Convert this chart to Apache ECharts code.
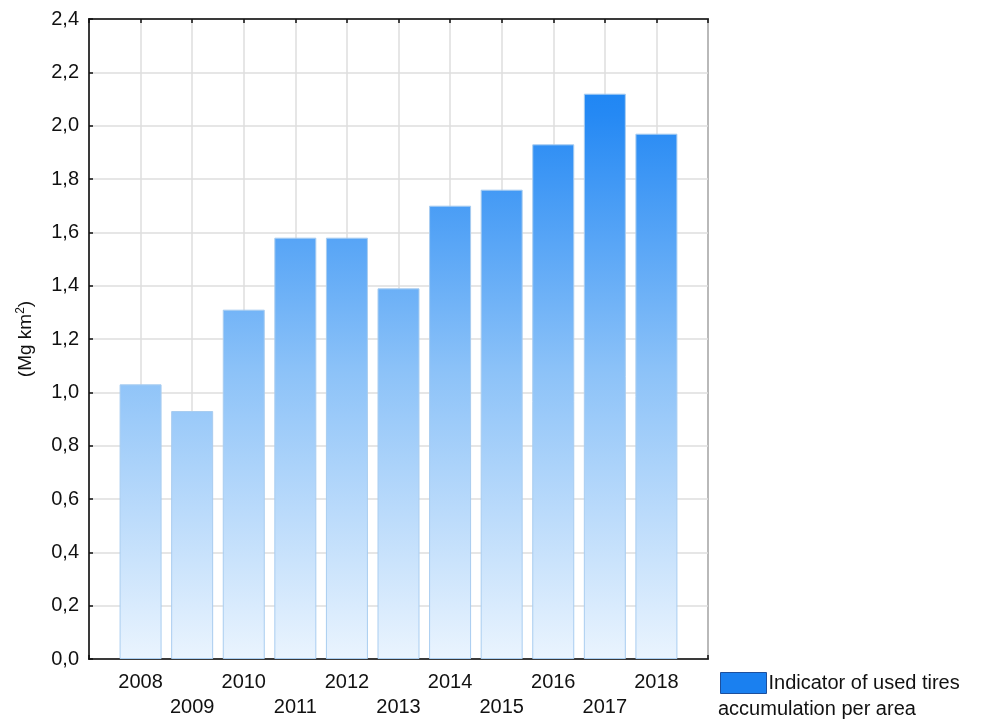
<!DOCTYPE html>
<html>
<head>
<meta charset="utf-8">
<script src="https://cdn.jsdelivr.net/npm/echarts@6/dist/echarts.min.js"></script>
<style>html,body{margin:0;padding:0;background:#fff;}#c{width:982px;height:720px;}</style>
</head>
<body>
<div id="c"></div>
<script>
const categories = ['', '2008', '2009', '2010', '2011', '2012', '2013', '2014', '2015', '2016', '2017', '2018', ''];
const values = [null, 1.03, 0.93, 1.31, 1.58, 1.58, 1.39, 1.70, 1.76, 1.93, 2.12, 1.97, null];
const yTicks = { min: 0, max: 2.4, interval: 0.2 };
const seriesName = 'Indicator of used tires accumulation per area';
const legendLine1 = 'Indicator of used tires';
const legendLine2 = 'accumulation per area';

const FONT = 'Liberation Sans';
const gridTop = 19, gridBottom = 61, gridLeft = 89, gridRight = 274;
const chart = echarts.init(document.getElementById('c'));
const barGrad = new echarts.graphic.LinearGradient(0, 720 - gridBottom, 0, gridTop, [
  { offset: 0, color: '#eaf4fe' },
  { offset: 0.45, color: '#8cc2f8' },
  { offset: 0.85, color: '#2589f4' },
  { offset: 1, color: '#0f7ef2' }
], true);

chart.setOption({
  animation: false,
  grid: { left: gridLeft, right: gridRight, top: gridTop, bottom: gridBottom, show: true, borderColor: '#111', borderWidth: 1.5, backgroundColor: 'transparent' },
  legend: {
    left: 720, top: 672, itemWidth: 46, itemHeight: 21, itemGap: 0, padding: 0,
    icon: 'rect',
    data: [{ name: seriesName, itemStyle: { color: '#1a80f0', borderColor: '#1d4f9c', borderWidth: 1 } }],
    formatter: () => legendLine1,
    textStyle: { fontFamily: FONT, fontSize: 20, color: '#111', padding: [0, 0, 0, -3] }
  },
  graphic: [{
    type: 'text', left: 718, top: 699,
    style: { text: legendLine2, font: '20px "' + FONT + '"', fill: '#111' }
  }],
  xAxis: [{
    type: 'category', data: categories, boundaryGap: false,
    axisLine: { lineStyle: { color: '#111', width: 1.5 } },
    axisTick: { inside: true, length: 4, lineStyle: { color: '#111', width: 1.5 } },
    splitLine: { show: true, lineStyle: { color: '#dedede', width: 1.5 } },
    axisLabel: {
      interval: 0, margin: 11, fontFamily: FONT, fontSize: 20, color: '#111', lineHeight: 25,
      formatter: (v, i) => (i % 2 === 0 ? '\n' + v : v)
    }
  }, {
    type: 'category', data: categories, boundaryGap: false, position: 'top',
    axisLine: { lineStyle: { color: '#111', width: 1.5 } },
    axisTick: { inside: true, length: 4, lineStyle: { color: '#111', width: 1.5 } },
    axisLabel: { show: false }
  }],
  yAxis: {
    type: 'value', min: yTicks.min, max: yTicks.max, interval: yTicks.interval,
    name: '(Mg km{sup|2})', nameLocation: 'middle', nameGap: 53,
    nameTextStyle: { fontFamily: FONT, fontSize: 19, color: '#111', rich: { sup: { fontFamily: FONT, fontSize: 12, verticalAlign: 'top', padding: [0, 0, 9, 0], color: '#111' } } },
    axisLine: { show: true, lineStyle: { color: '#111', width: 1.5 } },
    axisTick: { show: true, inside: true, length: 4, lineStyle: { color: '#111', width: 1.5 } },
    splitLine: { show: true, lineStyle: { color: '#dedede', width: 1.5 } },
    axisLabel: { margin: 10, fontFamily: FONT, fontSize: 20, color: '#111', formatter: v => v.toFixed(1).replace('.', ',') }
  },
  series: [{
    name: seriesName, type: 'bar', data: values, barWidth: 42,
    itemStyle: { color: barGrad, borderColor: '#a9cdf0', borderWidth: 1 }
  }]
});
</script>
</body>
</html>
